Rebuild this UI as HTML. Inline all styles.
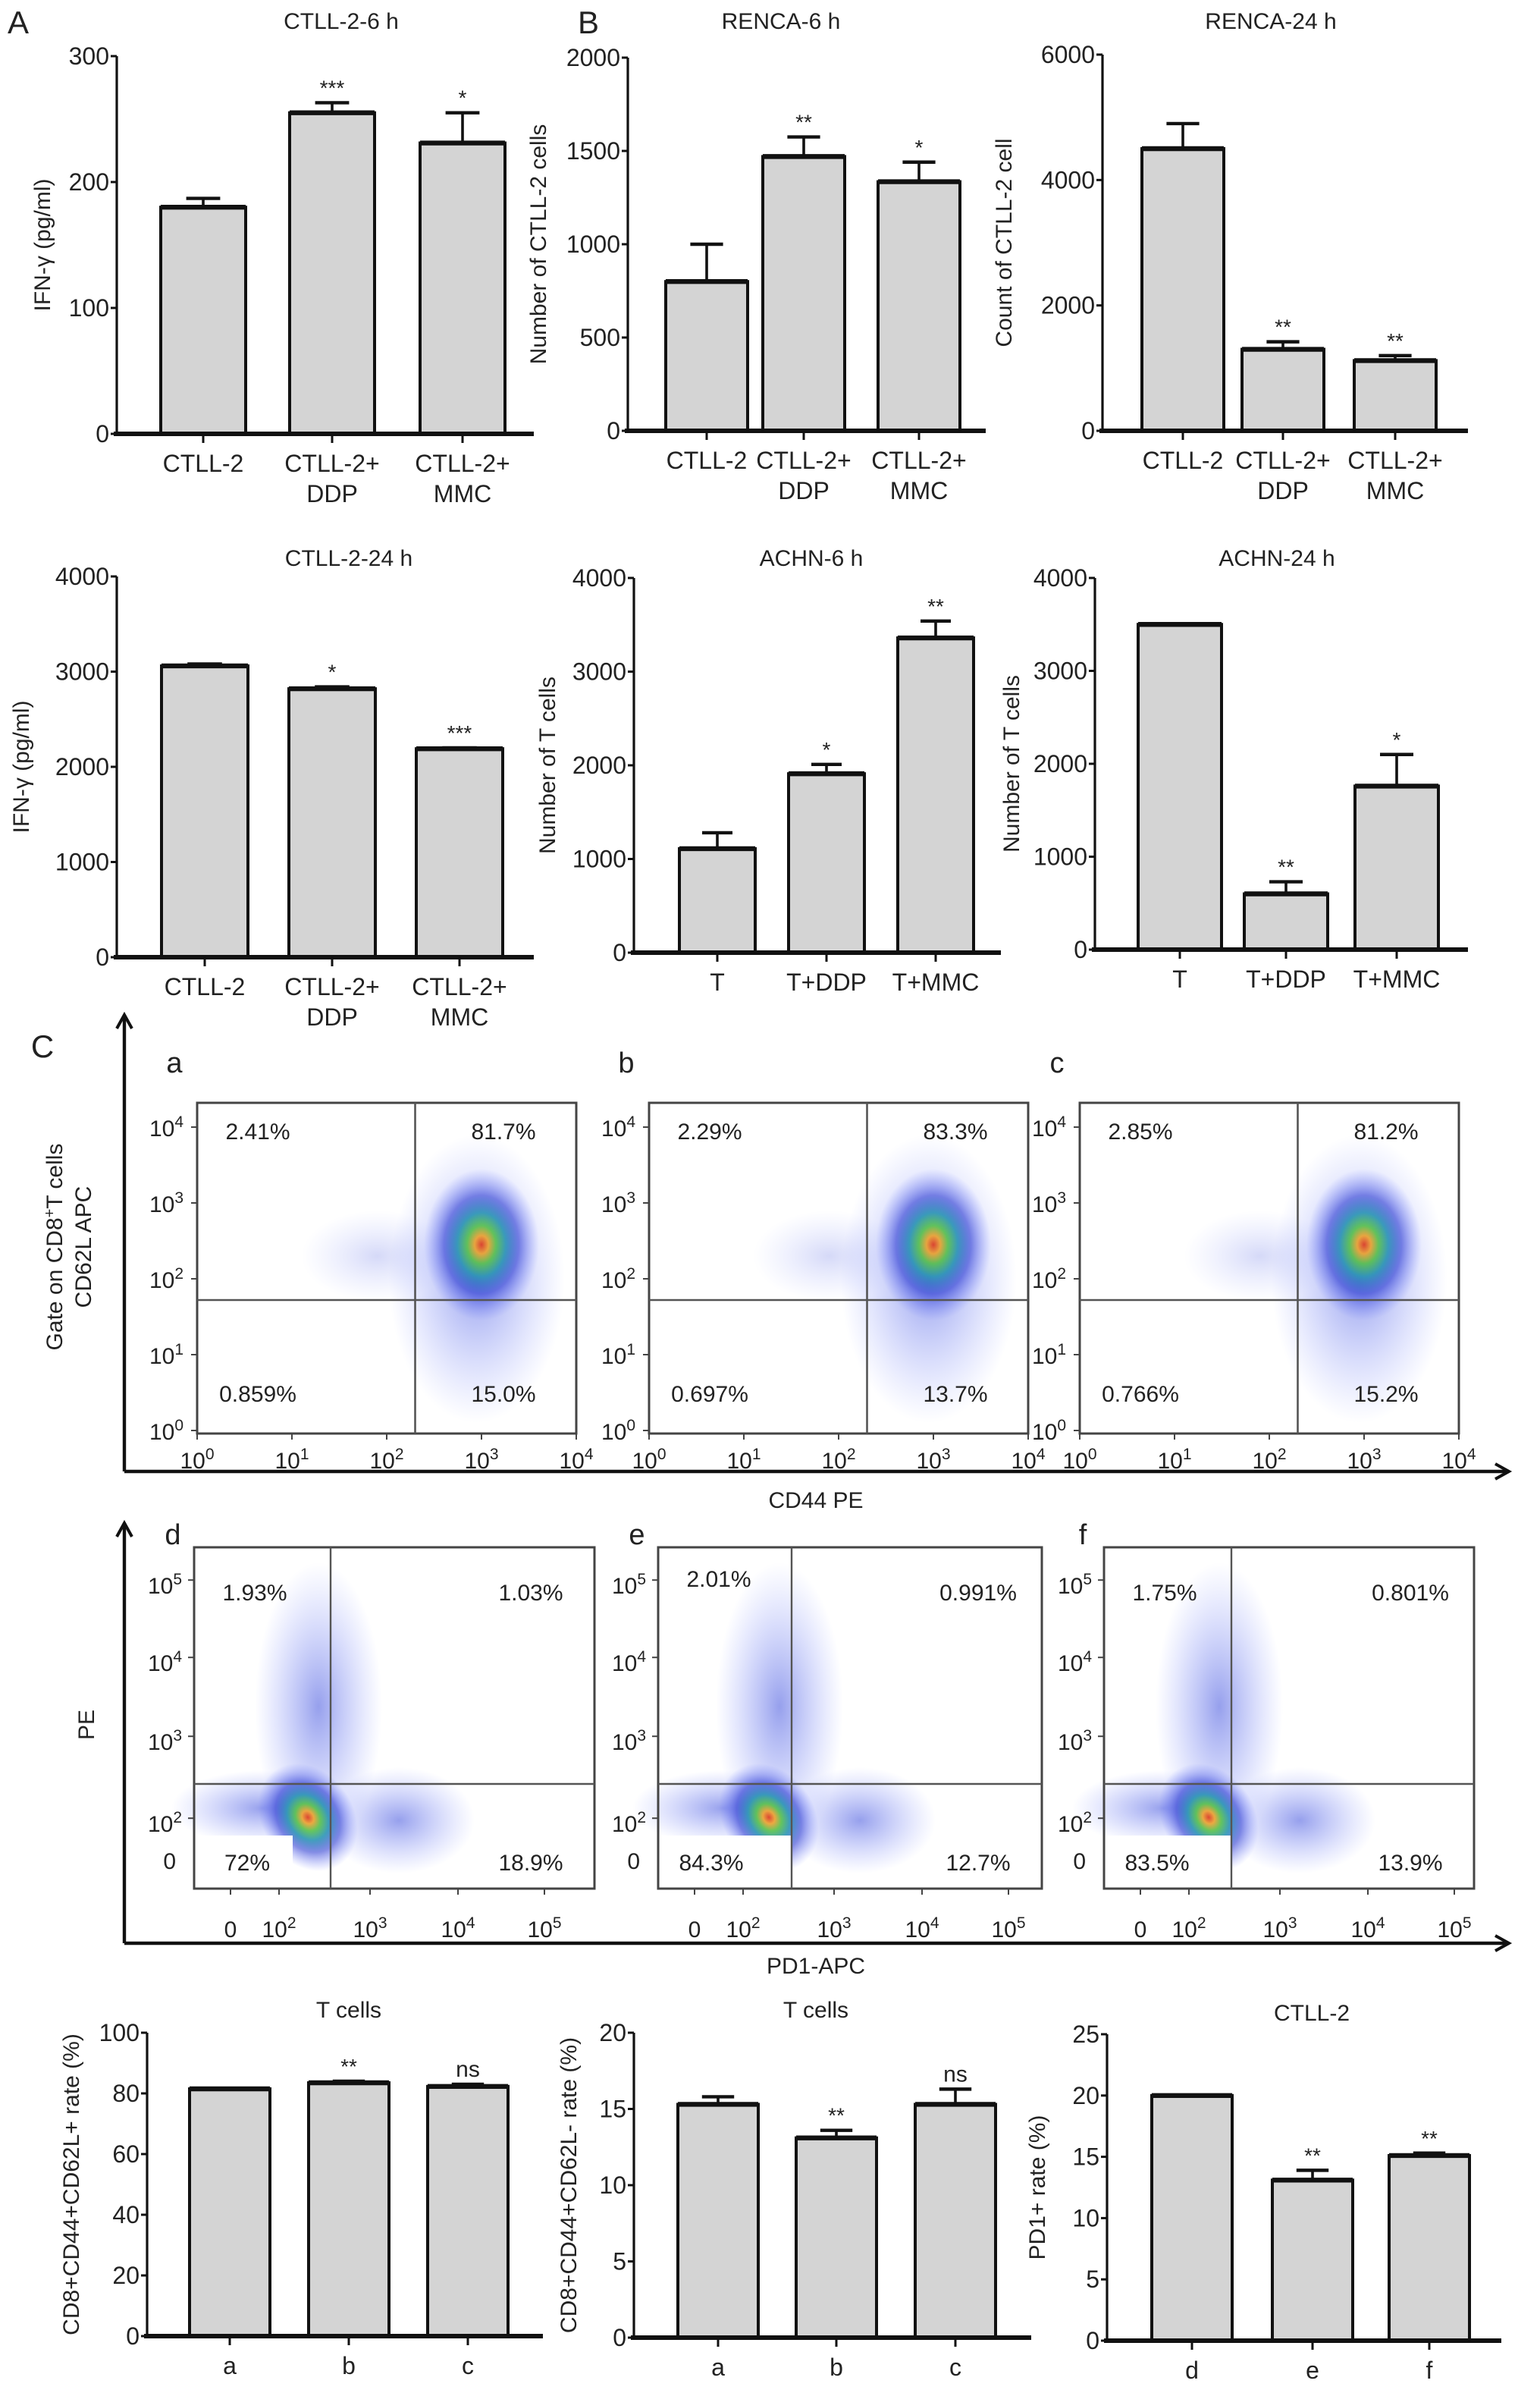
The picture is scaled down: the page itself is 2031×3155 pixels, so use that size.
<!DOCTYPE html>
<html><head><meta charset="utf-8">
<style>
html,body{margin:0;padding:0;background:#fff;}
svg{display:block;font-family:"Liberation Sans Narrow","Liberation Sans",sans-serif;}
</style></head>
<body>
<svg id="fig" width="2031" height="3155" viewBox="0 0 1015.5 1577.5" xmlns="http://www.w3.org/2000/svg">
<defs>
<radialGradient id="blob" cx="50%" cy="50%" r="50%">
<stop offset="0" stop-color="#e03010"/>
<stop offset="0.12" stop-color="#f0a020"/>
<stop offset="0.25" stop-color="#50c040"/>
<stop offset="0.42" stop-color="#2090b0"/>
<stop offset="0.65" stop-color="#2030d0" stop-opacity="0.65"/>
<stop offset="1" stop-color="#6070ff" stop-opacity="0"/>
</radialGradient>
<radialGradient id="blobB" cx="50%" cy="50%" r="50%">
<stop offset="0" stop-color="#5060e0" stop-opacity="0.6"/>
<stop offset="1" stop-color="#8090ff" stop-opacity="0"/>
</radialGradient>
</defs>
</svg>
<script>
// ---- bar chart data ----
const c6Cats=["CTLL-2","CTLL-2+|DDP","CTLL-2+|MMC"];
const c6Vals=[180,255,231];
const c6Errs=[187,263,255];
const c6Sig=["","***","*"];
const c6Ticks=[0,100,200,300];

const r6Cats=["CTLL-2","CTLL-2+|DDP","CTLL-2+|MMC"];
const r6Vals=[800,1470,1335];
const r6Errs=[1000,1575,1440];
const r6Sig=["","**","*"];
const r6Ticks=[0,500,1000,1500,2000];

const r24Cats=["CTLL-2","CTLL-2+|DDP","CTLL-2+|MMC"];
const r24Vals=[4500,1300,1120];
const r24Errs=[4900,1420,1200];
const r24Sig=["","**","**"];
const r24Ticks=[0,2000,4000,6000];

const c24Cats=["CTLL-2","CTLL-2+|DDP","CTLL-2+|MMC"];
const c24Vals=[3060,2820,2190];
const c24Errs=[3080,2840,2200];
const c24Sig=["","*","***"];
const c24Ticks=[0,1000,2000,3000,4000];

const a6Cats=["T","T+DDP","T+MMC"];
const a6Vals=[1110,1910,3360];
const a6Errs=[1280,2010,3540];
const a6Sig=["","*","**"];
const a6Ticks=[0,1000,2000,3000,4000];

const a24Cats=["T","T+DDP","T+MMC"];
const a24Vals=[3500,600,1760];
const a24Errs=[3500,730,2100];
const a24Sig=["","**","*"];
const a24Ticks=[0,1000,2000,3000,4000];

const t1Cats=["a","b","c"];
const t1Vals=[81.5,83.5,82.3];
const t1Errs=[81.5,84,83];
const t1Sig=["","**","ns"];
const t1Ticks=[0,20,40,60,80,100];

const t2Cats=["a","b","c"];
const t2Vals=[15.3,13.1,15.3];
const t2Errs=[15.8,13.6,16.3];
const t2Sig=["","**","ns"];
const t2Ticks=[0,5,10,15,20];

const pdCats=["d","e","f"];
const pdVals=[20,13.1,15.1];
const pdErrs=[20,13.9,15.3];
const pdSig=["","**","**"];
const pdTicks=[0,5,10,15,20,25];

const NS="http://www.w3.org/2000/svg";
const svg=document.getElementById('fig');
function el(tag,attrs,parent){const e=document.createElementNS(NS,tag);for(const k in attrs)e.setAttribute(k,attrs[k]);(parent||svg).appendChild(e);return e;}
function txt(s,x,y,size,parent,anchor,extra){const t=el('text',Object.assign({x:x,y:y,'font-size':size,'text-anchor':anchor||'middle',fill:'#222'},extra||{}),parent);t.textContent=s;return t;}

function barChart(name,geo,cats,vals,errs,sig,ticks,title,ylab){
  const g=el('g',{});
  
  
  const max=ticks[ticks.length-1];
  const Y=v=>geo.y0-(v/max)*(geo.y0-geo.ytop);
  const X=i=>geo.cx[i];
  const tt=txt(title,geo.tx,geo.ty,15,g);
  
  
  const ya=el('line',{x1:geo.ax,y1:geo.y0,x2:geo.ax,y2:geo.ytop,stroke:'#111','stroke-width':1.6},g);
  
  
  ticks.forEach(t=>{
    el('line',{x1:geo.ax-4,y1:Y(t),x2:geo.ax,y2:Y(t),stroke:'#111','stroke-width':1.5},g);
    const l=txt(String(t),geo.ax-5,Y(t)+5.5,16,g,'end');
    
    
  });
  const yl=txt(ylab,0,0,15,g,'middle',{transform:`translate(${geo.lx},${(geo.y0+geo.ytop)/2}) rotate(-90)`});
  
  
  const w=geo.bw;
  cats.forEach((c,i)=>{
    const x=X(i);
    if(errs[i]>vals[i]){
      el('line',{x1:x,y1:Y(vals[i]),x2:x,y2:Y(errs[i]),stroke:'#111','stroke-width':1.8},g);
      el('line',{x1:x-w*0.2,y1:Y(errs[i]),x2:x+w*0.2,y2:Y(errs[i]),stroke:'#111','stroke-width':2.2},g);
    }
    const r=el('rect',{x:x-w/2,y:Y(vals[i]),width:w,height:geo.y0-Y(vals[i]),fill:'#d4d4d4',stroke:'#111','stroke-width':2},g);
    
    
    el('line',{x1:x-w/2,y1:Y(vals[i]),x2:x+w/2,y2:Y(vals[i]),stroke:'#111','stroke-width':3.2},g);
    if(sig[i]){const s=txt(sig[i],x,Y(errs[i])-5,sig[i]=="ns"?15:14,g);
      
      }
    el('line',{x1:x,y1:geo.y0,x2:x,y2:geo.y0+6,stroke:'#111','stroke-width':1.5},g);
    const parts=c.split('|');
    parts.forEach((p,k)=>{const l=txt(p,x,geo.y0+25+k*20,16,g);
      
      });
  });
  const xa=el('line',{x1:geo.ax-2,y1:geo.y0,x2:geo.xend,y2:geo.y0,stroke:'#111','stroke-width':3},g);
  
  
}

barChart('chart-ctll2-6h',{ax:77,y0:286,ytop:37,cx:[134,219,305],bw:56,xend:352,tx:225,ty:19,lx:33},c6Cats,c6Vals,c6Errs,c6Sig,c6Ticks,'CTLL-2-6 h','IFN-γ (pg/ml)');
barChart('chart-renca-6h',{ax:414,y0:284,ytop:38,cx:[466,530,606],bw:54,xend:650,tx:515,ty:19,lx:360},r6Cats,r6Vals,r6Errs,r6Sig,r6Ticks,'RENCA-6 h','Number of CTLL-2 cells');
barChart('chart-renca-24h',{ax:727,y0:284,ytop:36,cx:[780,846,920],bw:54,xend:968,tx:838,ty:19,lx:667},r24Cats,r24Vals,r24Errs,r24Sig,r24Ticks,'RENCA-24 h','Count of CTLL-2 cell');
barChart('chart-ctll2-24h',{ax:77,y0:631,ytop:380,cx:[135,219,303],bw:57,xend:352,tx:230,ty:373,lx:19},c24Cats,c24Vals,c24Errs,c24Sig,c24Ticks,'CTLL-2-24 h','IFN-γ (pg/ml)');
barChart('chart-achn-6h',{ax:418,y0:628,ytop:381,cx:[473,545,617],bw:50,xend:660,tx:535,ty:373,lx:366},a6Cats,a6Vals,a6Errs,a6Sig,a6Ticks,'ACHN-6 h','Number of T cells');
barChart('chart-achn-24h',{ax:722,y0:626,ytop:381,cx:[778,848,921],bw:55,xend:968,tx:842,ty:373,lx:672},a24Cats,a24Vals,a24Errs,a24Sig,a24Ticks,'ACHN-24 h','Number of T cells');
barChart('chart-tcells-cd62l-pos',{ax:97,y0:1540,ytop:1340,cx:[151.5,230,308.5],bw:53,xend:358,tx:230,ty:1330,lx:52},t1Cats,t1Vals,t1Errs,t1Sig,t1Ticks,'T cells','CD8+CD44+CD62L+ rate (%)');
barChart('chart-tcells-cd62l-neg',{ax:418,y0:1541,ytop:1340,cx:[473.5,551.5,630],bw:53,xend:680,tx:538,ty:1330,lx:380},t2Cats,t2Vals,t2Errs,t2Sig,t2Ticks,'T cells','CD8+CD44+CD62L- rate (%)');
barChart('chart-ctll2-pd1',{ax:730,y0:1543,ytop:1341,cx:[786,865.5,942.5],bw:53,xend:990,tx:865,ty:1332,lx:689},pdCats,pdVals,pdErrs,pdSig,pdTicks,'CTLL-2','PD1+ rate (%)');

[['A',12,22],['B',388,22],['C',28,697]].forEach(p=>{const t=txt(p[0],p[1],p[2],21,svg);
  
  });

function sup(g,base,exp,x,y,size,anchor){
  const t=el('text',{x:x,y:y,'font-size':size,'text-anchor':anchor||'middle',fill:'#222'},g);
  const a=document.createElementNS(NS,'tspan');a.textContent=base;t.appendChild(a);
  if(exp!==null){const b=document.createElementNS(NS,'tspan');b.setAttribute('dy','-6');b.setAttribute('font-size',size*0.7);b.textContent=exp;t.appendChild(b);}
  return t;
}
const abPct=[["2.41%","81.7%","0.859%","15.0%"],["2.29%","83.3%","0.697%","13.7%"],["2.85%","81.2%","0.766%","15.2%"]];
const abLetters=["a","b","c"];
const abLeft=[130,428,712];
abLeft.forEach((L,i)=>{
  const g=el('g',{});
  
  
  const W=250,T=727,B=945;
  txt(abLetters[i],L-15,707,19,g);
  const X=d=>L+d*62.5, Y=d=>943-d*50;
  el('ellipse',{cx:X(2.95),cy:Y(2.0),rx:58,ry:95,fill:'url(#blobB)'},g);
  el('ellipse',{cx:X(1.9),cy:Y(2.3),rx:50,ry:30,fill:'url(#blobB)',opacity:0.4},g);
  el('ellipse',{cx:X(3.0),cy:Y(2.45),rx:38,ry:50,fill:'url(#blob)',opacity:0.85},g);
  el('rect',{x:L,y:T,width:W,height:B-T,fill:'none',stroke:'#444','stroke-width':1.5},g);
  el('line',{x1:X(2.3),y1:T,x2:X(2.3),y2:B,stroke:'#555','stroke-width':1.3},g);
  el('line',{x1:L,y1:857,x2:L+W,y2:857,stroke:'#555','stroke-width':1.3},g);
  for(let d=0;d<=4;d++){
    el('line',{x1:L-4,y1:Y(d),x2:L,y2:Y(d),stroke:'#444','stroke-width':1},g);
    el('line',{x1:X(d),y1:B,x2:X(d),y2:B+4,stroke:'#444','stroke-width':1},g);
    sup(g,'10',String(d),L-9,Y(d)+6,15,'end');
    sup(g,'10',String(d),X(d),B+23,15,'middle');
  }
  const p=abPct[i];
  txt(p[0],L+40,751,15,g);txt(p[1],L+W-48,751,15,g);
  txt(p[2],L+40,924,15,g);txt(p[3],L+W-48,924,15,g);
});

const dfPct=[["1.93%","1.03%","72%","18.9%"],["2.01%","0.991%","84.3%","12.7%"],["1.75%","0.801%","83.5%","13.9%"]];
const dfLetters=["d","e","f"];
const dfBox=[[128,264,90],[434,253,88],[728,244,84]];
const dfYT=[1041.6,1092.6,1144.6,1198.6];
dfBox.forEach((bx,i)=>{
  const [L,W,gx]=bx;
  const g=el('g',{});
  
  
  const T=1020,B=1245;
  txt(dfLetters[i],L-14,1018,19,g);
  el('ellipse',{cx:L+gx-8,cy:1125,rx:42,ry:95,fill:'url(#blobB)'},g);
  el('ellipse',{cx:L+gx+45,cy:1200,rx:50,ry:35,fill:'url(#blobB)'},g);
  el('ellipse',{cx:L+gx-45,cy:1192,rx:60,ry:25,fill:'url(#blobB)'},g);
  el('ellipse',{cx:L+gx-15,cy:1198,rx:30,ry:38,fill:'url(#blob)',opacity:0.85,transform:`rotate(-35 ${L+gx-15} 1198)`},g);
  el('rect',{x:L+1,y:1210,width:gx-(i==0?25:0)-1,height:34,fill:'#fff'},g);
  el('rect',{x:L,y:T,width:W,height:B-T,fill:'none',stroke:'#444','stroke-width':1.5},g);
  el('line',{x1:L+gx,y1:T,x2:L+gx,y2:B,stroke:'#555','stroke-width':1.2},g);
  el('line',{x1:L,y1:1176,x2:L+W,y2:1176,stroke:'#555','stroke-width':1.3},g);
  const ylab=["5","4","3","2"];
  dfYT.forEach((y,k)=>{el('line',{x1:L-4,y1:y,x2:L,y2:y,stroke:'#444'},g);sup(g,'10',ylab[k],L-8,y+9,15,'end');});
  txt('0',L-12,1232,15,g,'end');
  const xo=[24,56,116,174,231];
  xo.forEach((o,k)=>{
    el('line',{x1:L+o,y1:B,x2:L+o,y2:B+4,stroke:'#444'},g);
    if(k==0)txt('0',L+o,1277,15,g);else sup(g,'10',String(k+1),L+o,1277,15,'middle');
  });
  const p=dfPct[i];
  txt(p[0],L+40,i==1?1046:1055,15,g);txt(p[1],L+W-42,1055,15,g);
  txt(p[2],L+35,1233,15,g);txt(p[3],L+W-42,1233,15,g);
});

function arrow(name,x1,y1,x2,y2){
  const a=el('line',{x1:x1,y1:y1,x2:x2,y2:y2,stroke:'#111','stroke-width':2.2});
  
  
  const dx=x2-x1,dy=y2-y1,len=Math.hypot(dx,dy),ux=dx/len,uy=dy/len;
  el('polyline',{points:`${x2-ux*9-uy*5},${y2-uy*9+ux*5} ${x2},${y2} ${x2-ux*9+uy*5},${y2-uy*9-ux*5}`,fill:'none',stroke:'#111','stroke-width':2});
}
arrow('cd62l-axis-arrow',82,970,82,669);
arrow('cd44-axis-arrow',82,970,995,970);
arrow('pe-axis-arrow',82,1281,82,1004);
arrow('pd1-axis-arrow',82,1281,995,1281);
[['CD44 PE',538,994,'cd44-axis-title'],['PD1-APC',538,1301,'pd1-axis-title']].forEach(t=>{const e=txt(t[0],t[1],t[2],15,svg);
  
  });
const pe=txt('PE',0,0,15,svg,'middle',{transform:'translate(62,1137) rotate(-90)'});


const g1=el('text',{x:0,y:0,'font-size':15,'text-anchor':'middle',fill:'#222',transform:'translate(41,822) rotate(-90)'});


g1.innerHTML='Gate on CD8<tspan dy="-5" font-size="10">+</tspan><tspan dy="5">T cells</tspan>';
const g2=txt('CD62L APC',0,0,15,svg,'middle',{transform:'translate(60,822) rotate(-90)'});


</script>
</body></html>
